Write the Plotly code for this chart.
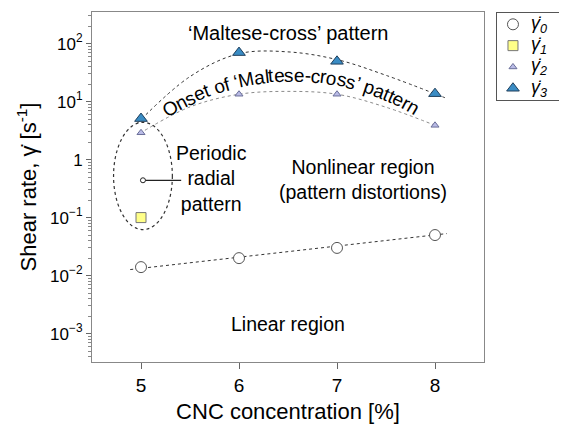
import math
import plotly.graph_objects as go

# CNC concentration [%]
conc = [5, 6, 7, 8]

# shear rates [1/s]
gamma0 = [0.014, 0.020, 0.030, 0.050]
gamma1_x = [5]
gamma1 = [0.10]
gamma2 = [2.9, 13.4, 13.4, 3.9]
gamma3 = [5.1, 70, 49.5, 13.7]

# dotted guide curves
fit0_x = [4.89, 8.12]
fit0_y = [0.0127, 0.053]
fit2_x = [5.04, 5.5, 6.0, 6.5, 7.0, 7.5, 8.0]
fit2_y = [3.2, 8.1, 13.4, 15.0, 13.4, 8.0, 3.9]
fit3_x = [4.96, 5.5, 6.0, 6.5, 7.0, 7.5, 8.1]
fit3_y = [4.2, 27, 67, 72, 53, 28.4, 11.7]

# periodic radial pattern pointer
pointer_x = [5.02, 5.41]
pointer_y = [0.44, 0.44]

FONT = "Helvetica, Arial, Liberation Sans, sans-serif"
# page has an 8px body margin, so the figure is a bit smaller than the window
W, H = 559, 416
ML, MR, MT, MB = 84, 2, 4, 62
PW, PH = W - ML - MR, H - MT - MB
PLOT_W = 392  # width of the data area in px
XDOM = PLOT_W / PW


def paper_xy(px_, py_):
    # page pixel (incl. 8px offset) -> paper coords
    return (px_ - 8 - ML) / PW, (H - MB - (py_ - 8)) / PH


fig = go.Figure()

fig.add_trace(go.Scatter(x=fit0_x, y=fit0_y, mode="lines", hoverinfo="skip",
                         line=dict(color="#333333", width=1, dash="dot")))
fig.add_trace(go.Scatter(x=fit2_x, y=fit2_y, mode="lines", hoverinfo="skip",
                         line=dict(color="#8a8a8a", width=1, dash="dot", shape="spline")))
fig.add_trace(go.Scatter(x=fit3_x, y=fit3_y, mode="lines", hoverinfo="skip",
                         line=dict(color="#333333", width=1, dash="dot", shape="spline")))
fig.add_trace(go.Scatter(x=pointer_x, y=pointer_y, mode="lines", hoverinfo="skip",
                         line=dict(color="#222222", width=1.2)))
fig.add_trace(go.Scatter(x=pointer_x[:1], y=pointer_y[:1], mode="markers",
                         marker=dict(symbol="circle", size=5, color="white",
                                     line=dict(color="#222222", width=1))))

series = [
    ("0", conc, gamma0, dict(symbol="circle", size=11, color="white", line=dict(color="#555555", width=1))),
    ("1", gamma1_x, gamma1, dict(symbol="square", size=10, color="#ffff88", line=dict(color="#777777", width=1))),
    ("2", conc, gamma2, dict(symbol="triangle-up", size=7, color="#b9bbe6", line=dict(color="#6b6f99", width=1))),
    ("3", conc, gamma3, dict(symbol="triangle-up", size=11, color="#3a8cc4", line=dict(color="#1f3f5c", width=1))),
]
for idx, xs, ys, mk in series:
    fig.add_trace(go.Scatter(x=xs, y=ys, mode="markers", name="γ̇" + idx, marker=mk))

# hand-made legend box on its own little axes
leg_rows = [0.87, 0.625, 0.38, 0.135]
for (idx, xs, ys, mk), ry in zip(series, leg_rows):
    fig.add_trace(go.Scatter(x=[0.235], y=[ry], mode="markers", marker=mk, xaxis="x2", yaxis="y2",
                             hoverinfo="skip"))
    fig.add_annotation(x=0.47, y=ry, xref="x2", yref="y2", xanchor="left", yanchor="middle",
                       text="<i>γ̇<sub>" + idx + "</sub></i>", showarrow=False,
                       font=dict(size=18, color="black", family=FONT))

# dotted ellipse round the periodic-pattern points
fig.add_shape(type="circle", xref="x", yref="y", x0=4.72, x1=5.32, y0=0.062, y1=4.4,
              line=dict(color="#333333", width=1.2, dash="dot"))

ann = dict(xref="x", yref="y", showarrow=False, font=dict(size=19.5, color="black", family=FONT))
fig.add_annotation(x=6.5, y=2.18, text="‘Maltese-cross’ pattern",
                   xref="x", yref="y", showarrow=False, font=dict(size=20, color="black", family=FONT))
fig.add_annotation(x=5.72, y=-0.322, text="Periodic<br>radial<br>pattern", align="center", **ann)
fig.add_annotation(x=7.27, y=-0.348, text="Nonlinear region<br>(pattern distortions)", align="center", **ann)
fig.add_annotation(x=6.5, y=-2.828, text="Linear region", **ann)

# curved label: letters laid along a circular arc (page pixels)
arc_text = "Onset of ‘Maltese-cross’ pattern"
arc_size = 19
char_w = {"O": .778, "n": .556, "s": .5, "e": .556, "t": .278, " ": .278, "o": .556, "f": .278,
          "‘": .222, "’": .222, "M": .833, "a": .556, "l": .222, "-": .333, "c": .5, "r": .333,
          "p": .556}
arc_cx, arc_cy, arc_r, arc_start = 293, 316, 241, -32.4
s = 0.0
for ch in arc_text:
    w = char_w[ch] * arc_size
    th = math.radians(arc_start) + (s + w / 2) / arc_r
    s += w
    if ch == " ":
        continue
    ax_, ay_ = paper_xy(arc_cx + arc_r * math.sin(th), arc_cy - arc_r * math.cos(th))
    fig.add_annotation(x=ax_, y=ay_, xref="paper", yref="paper", xanchor="center", yanchor="middle",
                       text=ch, textangle=math.degrees(th), showarrow=False,
                       font=dict(size=arc_size, color="black", family=FONT))

ytick_vals = [1e-3, 1e-2, 1e-1, 1, 10, 100]
ytick_text = ["10<sup>−3</sup>", "10<sup>−2</sup>", "10<sup>−1</sup>", "1",
              "10<sup>1</sup>", "10<sup>2</sup>"]

fig.update_layout(
    xaxis=dict(domain=[0, XDOM], range=[4.5, 8.5], tickvals=conc, ticks="outside", ticklen=6,
               tickcolor="#666666", showline=True, linecolor="#888888", linewidth=1, mirror=True,
               showgrid=False, zeroline=False, automargin=False, tickfont=dict(size=19, color="black"),
               title=dict(text="CNC concentration [%]", font=dict(size=22, color="black"), standoff=14)),
    yaxis=dict(type="log", range=[-3.49, 2.545], tickvals=ytick_vals, ticktext=ytick_text,
               ticks="outside", ticklen=5, tickcolor="#666666",
               minor=dict(ticks="outside", ticklen=3, tickcolor="#888888", dtick="D1", showgrid=False),
               showline=True, linecolor="#888888", linewidth=1, mirror=True, showgrid=False,
               zeroline=False, automargin=False, tickfont=dict(size=17, color="black"),
               title=dict(text="Shear rate, γ̇ [s<sup>-1</sup>]", font=dict(size=22, color="black"), standoff=7)),
    xaxis2=dict(domain=[paper_xy(497, 0)[0], 1], range=[0, 1], anchor="y2", showline=True, mirror=True,
                linecolor="#555555", linewidth=1, showgrid=False, zeroline=False, showticklabels=False,
                ticks="", fixedrange=True),
    yaxis2=dict(domain=[paper_xy(0, 100)[1], paper_xy(0, 13)[1]], range=[0, 1], anchor="x2",
                showline=True, mirror=True, linecolor="#555555", linewidth=1, showgrid=False,
                zeroline=False, showticklabels=False, ticks="", fixedrange=True),
    width=W, height=H,
    margin=dict(l=ML, r=MR, t=MT, b=MB, autoexpand=False),
    paper_bgcolor="white", plot_bgcolor="white",
    font=dict(family=FONT, color="black"),
    showlegend=False,
)

fig.write_html("out.html")
